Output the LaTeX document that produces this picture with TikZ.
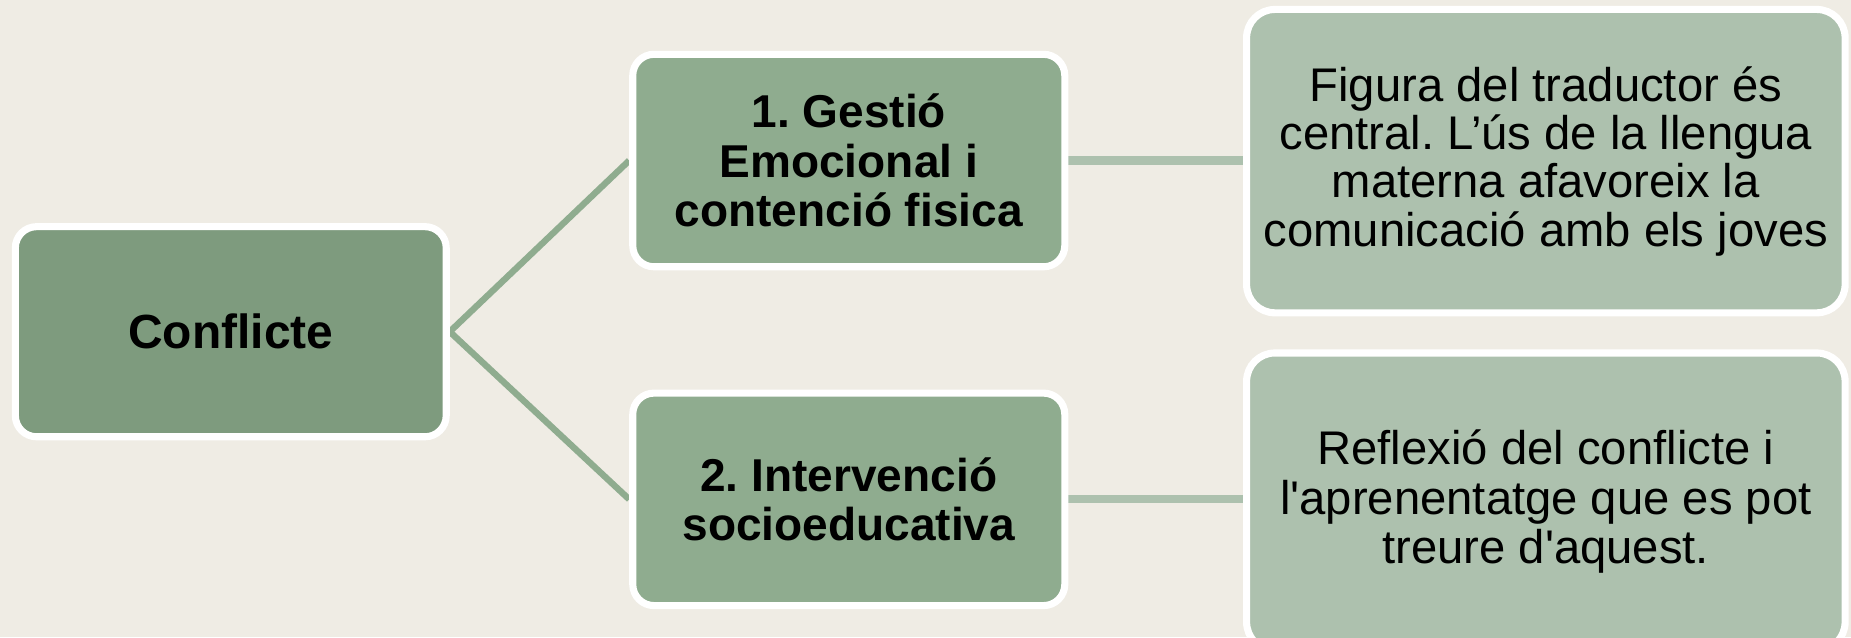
\documentclass[tikz,border=0pt]{standalone}
\usepackage{fontspec}
\setmainfont{Liberation Sans}[Ligatures=TeXOff]
\definecolor{bgc}{HTML}{EFECE4}
\definecolor{darkg}{HTML}{7E9B7E}
\definecolor{midg}{HTML}{8FAC8F}
\definecolor{lightg}{HTML}{ADC1AE}
\pgfdeclarelayer{bg}
\pgfdeclarelayer{conn}
\pgfsetlayers{bg,conn,main}
\frenchspacing
\begin{document}
\begin{tikzpicture}[x=0.5pt,y=-0.5pt,
  box/.style={draw=white, line width=3pt, rounded corners=9pt, align=center, inner sep=0pt},
  boldtext/.style={font=\fontsize{19.5pt}{21pt}\selectfont\bfseries},
  regtext/.style={font=\fontsize{20pt}{20.5pt}\selectfont},
  leftlink/.style={draw=midg, line width=2.7pt},
  rightlink/.style={draw=lightg, line width=3.5pt}]
\useasboundingbox (0,0) rectangle (1568,540);
\begin{pgfonlayer}{bg}
\fill[bgc] (0,0) rectangle (1568,540);
\end{pgfonlayer}
\begin{scope}
\clip (0,0) rectangle (1568,540);
\node[box, boldtext, font=\fontsize{20.3pt}{21pt}\selectfont\bfseries, fill=darkg, minimum width=182.5pt, minimum height=89pt] (conf) at (195.5,281) {Conflicte};
\node[box, boldtext, fill=midg, minimum width=183pt, minimum height=90pt] (g1) at (719,136) {1. Gestió\\Emocional i\\contenció fisica};
\node[box, boldtext, fill=midg, minimum width=183pt, minimum height=90pt] (g2) at (719,423) {2. Intervenció\\socioeducativa};
\node[box, regtext, fill=lightg, rounded corners=12pt, minimum width=253.5pt, minimum height=128.5pt] (d1) at (1309.5,136.5) {Figura del traductor és\\central. L’ús de la llengua\\materna afavoreix la\\comunicació amb els joves};
\node[box, regtext, font=\fontsize{20pt}{21pt}\selectfont, fill=lightg, rounded corners=12pt, minimum width=253.5pt, minimum height=126pt] (d2) at (1309.5,425) {Reflexió del conflicte i\\l'aprenentatge que es pot\\treure d'aquest.};
\end{scope}
\begin{pgfonlayer}{conn}
\draw[leftlink] (conf.east) -- (g1.west);
\draw[leftlink] (conf.east) -- (g2.west);
\draw[rightlink] (g1.east) -- (d1.west |- g1.east);
\draw[rightlink] (g2.east) -- (d2.west |- g2.east);
\end{pgfonlayer}
\end{tikzpicture}
\end{document}
